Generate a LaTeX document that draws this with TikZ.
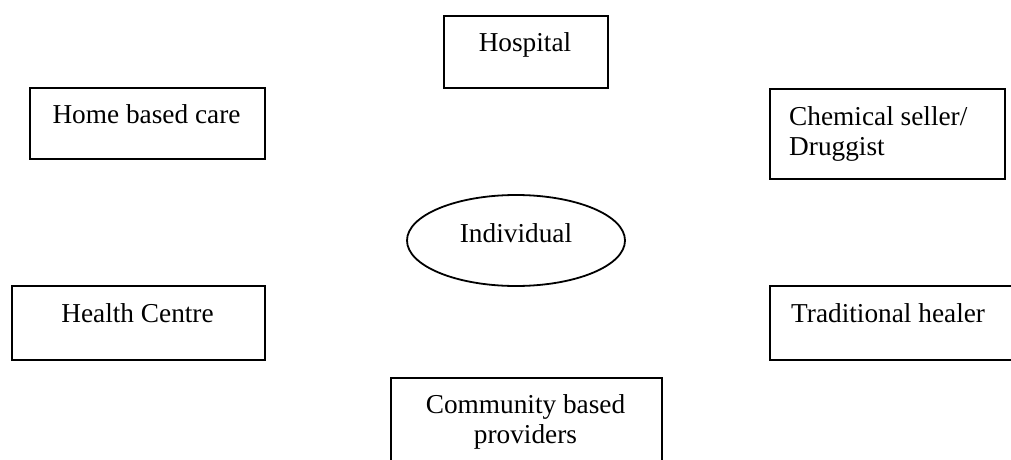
\documentclass[tikz,border=0pt]{standalone}
\usepackage{fontspec}
\setmainfont{Liberation Serif}
\usetikzlibrary{shapes.geometric}
\begin{document}
\begin{tikzpicture}[x=1pt,y=-1pt,
  box/.style={draw, line width=1.8pt, rectangle, inner sep=0pt, anchor=north west},
  lbl/.style={inner sep=0pt, font=\fontsize{27.3}{30}\selectfont},
  oval/.style={draw, line width=1.8pt, ellipse, inner sep=0pt}]
\clip (0,0) rectangle (1011,460);
% care providers around the individual
\node[box, minimum width=164, minimum height=72] (hosp) at (443,15) {};
\node[lbl, anchor=base] (hosp-t) at (525,52) {Hospital};

\node[box, minimum width=235, minimum height=71] (home) at (29,87) {};
\node[lbl, anchor=base] (home-t) at (146.5,123) {Home based care};

\node[box, minimum width=235, minimum height=90] (chem) at (769,88) {};
% two-line labels are anchored on the baseline of their last line
\node[lbl, anchor=base west, align=left] (chem-t) at (789,155) {Chemical seller/\\Druggist};

\node[box, minimum width=253, minimum height=74] (hc) at (11,285) {};
\node[lbl, anchor=base] (hc-t) at (137.5,322) {Health Centre};

\node[box, minimum width=250, minimum height=74] (trad) at (769,285) {};
\node[lbl, anchor=base west] (trad-t) at (791,322) {Traditional healer};

\node[box, minimum width=271, minimum height=100] (comm) at (390,377) {};
\node[lbl, anchor=base, align=center] (comm-t) at (525.5,443) {Community based\\providers};

% the individual at the centre
\node[oval, minimum width=218, minimum height=91] (ind) at (516,240.5) {};
\node[lbl, anchor=base] (ind-t) at (516,242) {Individual};
\end{tikzpicture}
\end{document}
